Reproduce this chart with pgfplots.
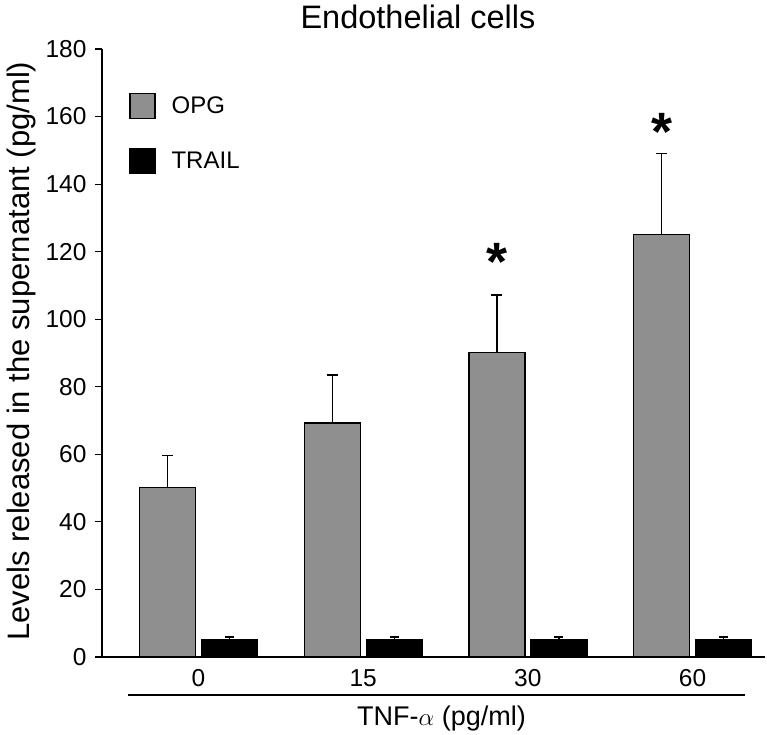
\documentclass[border=0pt]{standalone}
\usepackage{pgfplots}
\pgfplotsset{compat=1.18}
\usepackage{fontspec}
\setmainfont{Liberation Sans}
\definecolor{opg}{RGB}{143,143,143}
\begin{document}
\begin{tikzpicture}
\useasboundingbox (0pt,0pt) rectangle (767pt,734pt);
\begin{axis}[
  at={(102pt,77pt)}, anchor=south west,
  scale only axis, width=663pt, height=608pt,
  xmin=-0.586, xmax=3.44, ymin=0, ymax=180,
  axis lines=left, axis line style={-, line width=1.3pt},
  ytick={0,20,...,180}, tick align=outside, major tick length=7pt,
  y tick style={line width=1.1pt, black},
  xtick={0,1,2,3}, xticklabels={0,15,30,60},
  x tick style={draw=none},
  /pgf/number format/assume math mode=true,
  tick label style={font=\fontsize{24.5}{28}\selectfont},
  xticklabel style={yshift=-2pt},
  yticklabel style={xshift=-5pt},
  title={Endothelial cells},
  every axis title shift=0pt,
  title style={font=\fontsize{32.5}{36}\selectfont, at={(axis description cs:0.4766,1)}, anchor=base, yshift=20pt},
  ylabel={Levels released in the supernatant (pg/ml)},
  ylabel style={font=\fontsize{31}{35}\selectfont, at={(axis description cs:-0.1094,0.503)}, anchor=base},
  xlabel={TNF-$\alpha$ (pg/ml)},
  xlabel style={font=\fontsize{27}{31}\selectfont, at={(axis description cs:0.512,0)}, anchor=center, yshift=-62pt},
  ybar, bar width=56pt,
  legend style={draw=none, fill=none, at={(axis description cs:0.041,0.928)}, anchor=north west,
    font=\fontsize{24}{28}\selectfont, row sep=29pt, column sep=14pt, inner sep=0pt},
  legend cell align=left,
  legend image code/.code={\draw[#1, line width=1.2pt] (0pt,-12.5pt) rectangle (25pt,12.5pt);},
  clip=false,
]
\addplot[bar shift=-31pt, fill=opg, draw=black, line width=1.3pt,
  error bars/.cd, y dir=plus, y explicit,
  error mark options={rotate=90, mark size=5.5pt, line width=1.3pt},
  error bar style={line width=1.3pt}]
  coordinates {(0,50.1) +- (0,9.5) (1,69.3) +- (0,14.2) (2,90.2) +- (0,17.0) (3,125.1) +- (0,24.0)};
\addplot[bar shift=31pt, fill=black, draw=black, line width=1.3pt,
  error bars/.cd, y dir=plus, y explicit,
  error mark options={rotate=90, mark size=4.5pt, line width=1.3pt},
  error bar style={line width=1.3pt}]
  coordinates {(0,5.0) +- (0,0.9) (1,5.0) +- (0,0.9) (2,5.0) +- (0,0.9) (3,5.0) +- (0,0.9)};
\legend{OPG, TRAIL}
\node[font=\fontsize{54}{54}\selectfont\bfseries, inner sep=0pt] at ([xshift=-31pt]axis cs:2,117.0) {*};
\node[font=\fontsize{54}{54}\selectfont\bfseries, inner sep=0pt] at ([xshift=-31pt]axis cs:3,155.5) {*};
\end{axis}
\draw[line width=1.3pt] (128pt,39pt) -- (745pt,39pt);
\end{tikzpicture}
\end{document}
